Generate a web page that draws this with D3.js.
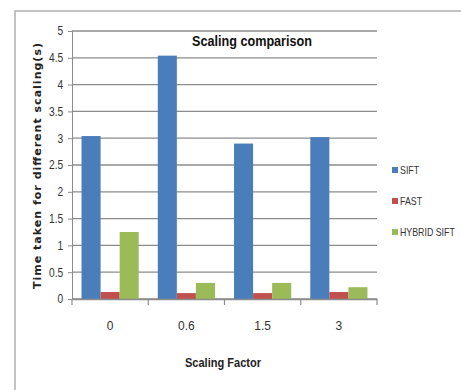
<!DOCTYPE html>
<html><head><meta charset="utf-8">
<script src="https://cdn.jsdelivr.net/npm/d3@7"></script>
<style>
body{margin:0;background:#fff;}
svg{display:block;}
text{font-family:"Liberation Sans","Open Sans",sans-serif;}
</style></head><body>
<svg id="c" width="461" height="390"></svg>
<script>
const categories = ["0", "0.6", "1.5", "3"];
const seriesNames = ["SIFT", "FAST", "HYBRID SIFT"];
const sift = [3.04, 4.54, 2.90, 3.02];
const fast = [0.13, 0.11, 0.11, 0.13];
const hybrid = [1.25, 0.30, 0.30, 0.22];
const yTicks = [0, 0.5, 1, 1.5, 2, 2.5, 3, 3.5, 4, 4.5, 5];
const colors = ["#4a7ebb", "#c0504d", "#9bbb59"];
const series = [sift, fast, hybrid];

const svg = d3.select("#c");
// frame
svg.append("path").attr("d","M15,390 V11 H461").attr("fill","none").attr("stroke","#b0b0b0").attr("stroke-width",1.5);

const pL = 72, pR = 377, pT = 31, pB = 299;
const x = d3.scaleBand().domain(categories).range([pL, pR]).paddingInner(0).paddingOuter(0);
const y = d3.scaleLinear().domain([0, 5]).range([pB, pT]);
const x1 = d3.scaleBand().domain(seriesNames).range([0, x.bandwidth()]).paddingOuter(0.5).paddingInner(0);

// gridlines
svg.append("g").selectAll("line").data(yTicks).join("line")
  .attr("x1", pL).attr("x2", pR)
  .attr("y1", d => y(d)).attr("y2", d => y(d))
  .attr("stroke", "#8c8c8c").attr("stroke-width", 1.3);

// y axis
const ya = svg.append("g").attr("transform", `translate(${pL},0)`)
  .call(d3.axisLeft(y).tickValues(yTicks).tickSize(4).tickFormat(d => String(d)));
ya.select(".domain").attr("stroke", "#8c8c8c");
ya.selectAll(".tick line").attr("stroke", "#8c8c8c");
ya.selectAll("text").attr("font-size", 12).attr("fill", "#333").attr("dx", -1)
  .style("font-family", "'Liberation Sans',sans-serif")
  .attr("transform", "scale(0.85,1)").attr("x", -8 / 0.85);

// bars
categories.forEach((c, i) => {
  series.forEach((s, j) => {
    svg.append("rect")
      .attr("x", x(c) + x1(seriesNames[j]))
      .attr("width", x1.bandwidth())
      .attr("y", y(s[i]))
      .attr("height", pB - y(s[i]))
      .attr("fill", colors[j]);
  });
});

// x axis
const xa = svg.append("g").attr("transform", `translate(0,${pB})`)
  .call(d3.axisBottom(x).tickSize(0).tickPadding(22));
xa.select(".domain").attr("stroke", "#8c8c8c").attr("stroke-width", 1.3);
xa.selectAll("text").attr("font-size", 12).attr("fill", "#333");
// category boundary ticks
const bounds = categories.map(c => x(c)).concat([pR]);
svg.append("g").selectAll("line").data(bounds).join("line")
  .attr("x1", d => d).attr("x2", d => d).attr("y1", pB).attr("y2", pB + 6)
  .attr("stroke", "#8c8c8c").attr("stroke-width", 1.2);

// title
svg.append("text").attr("x", 252).attr("y", 46).attr("text-anchor", "middle")
  .attr("font-size", 15.5).attr("font-weight", "bold").attr("fill", "#111")
  .attr("textLength", 120).attr("lengthAdjust", "spacingAndGlyphs")
  .text("Scaling comparison");

// x title
svg.append("text").attr("x", 223).attr("y", 367).attr("text-anchor", "middle")
  .attr("font-size", 12).attr("font-weight", "bold").attr("fill", "#222")
  .attr("textLength", 76).attr("lengthAdjust", "spacingAndGlyphs")
  .text("Scaling Factor");

// y title
svg.append("text").attr("transform", "translate(41,166) rotate(-90)")
  .attr("text-anchor", "middle").attr("font-size", 11).attr("font-weight", "bold")
  .attr("fill", "#222").attr("textLength", 246).attr("lengthAdjust", "spacing")
  .style("font-family", "'DejaVu Sans',sans-serif")
  .text("Time taken for different scaling(s)");

// legend
const ly = [170, 201, 232];
seriesNames.forEach((n, j) => {
  svg.append("rect").attr("x", 392).attr("y", ly[j] - 3).attr("width", 6).attr("height", 6).attr("fill", colors[j]);
  svg.append("text").attr("transform", `translate(400,${ly[j] + 4}) scale(0.84,1)`)
    .attr("font-size", 10.5).attr("fill", "#333").text(n);
});
</script>
</body></html>
